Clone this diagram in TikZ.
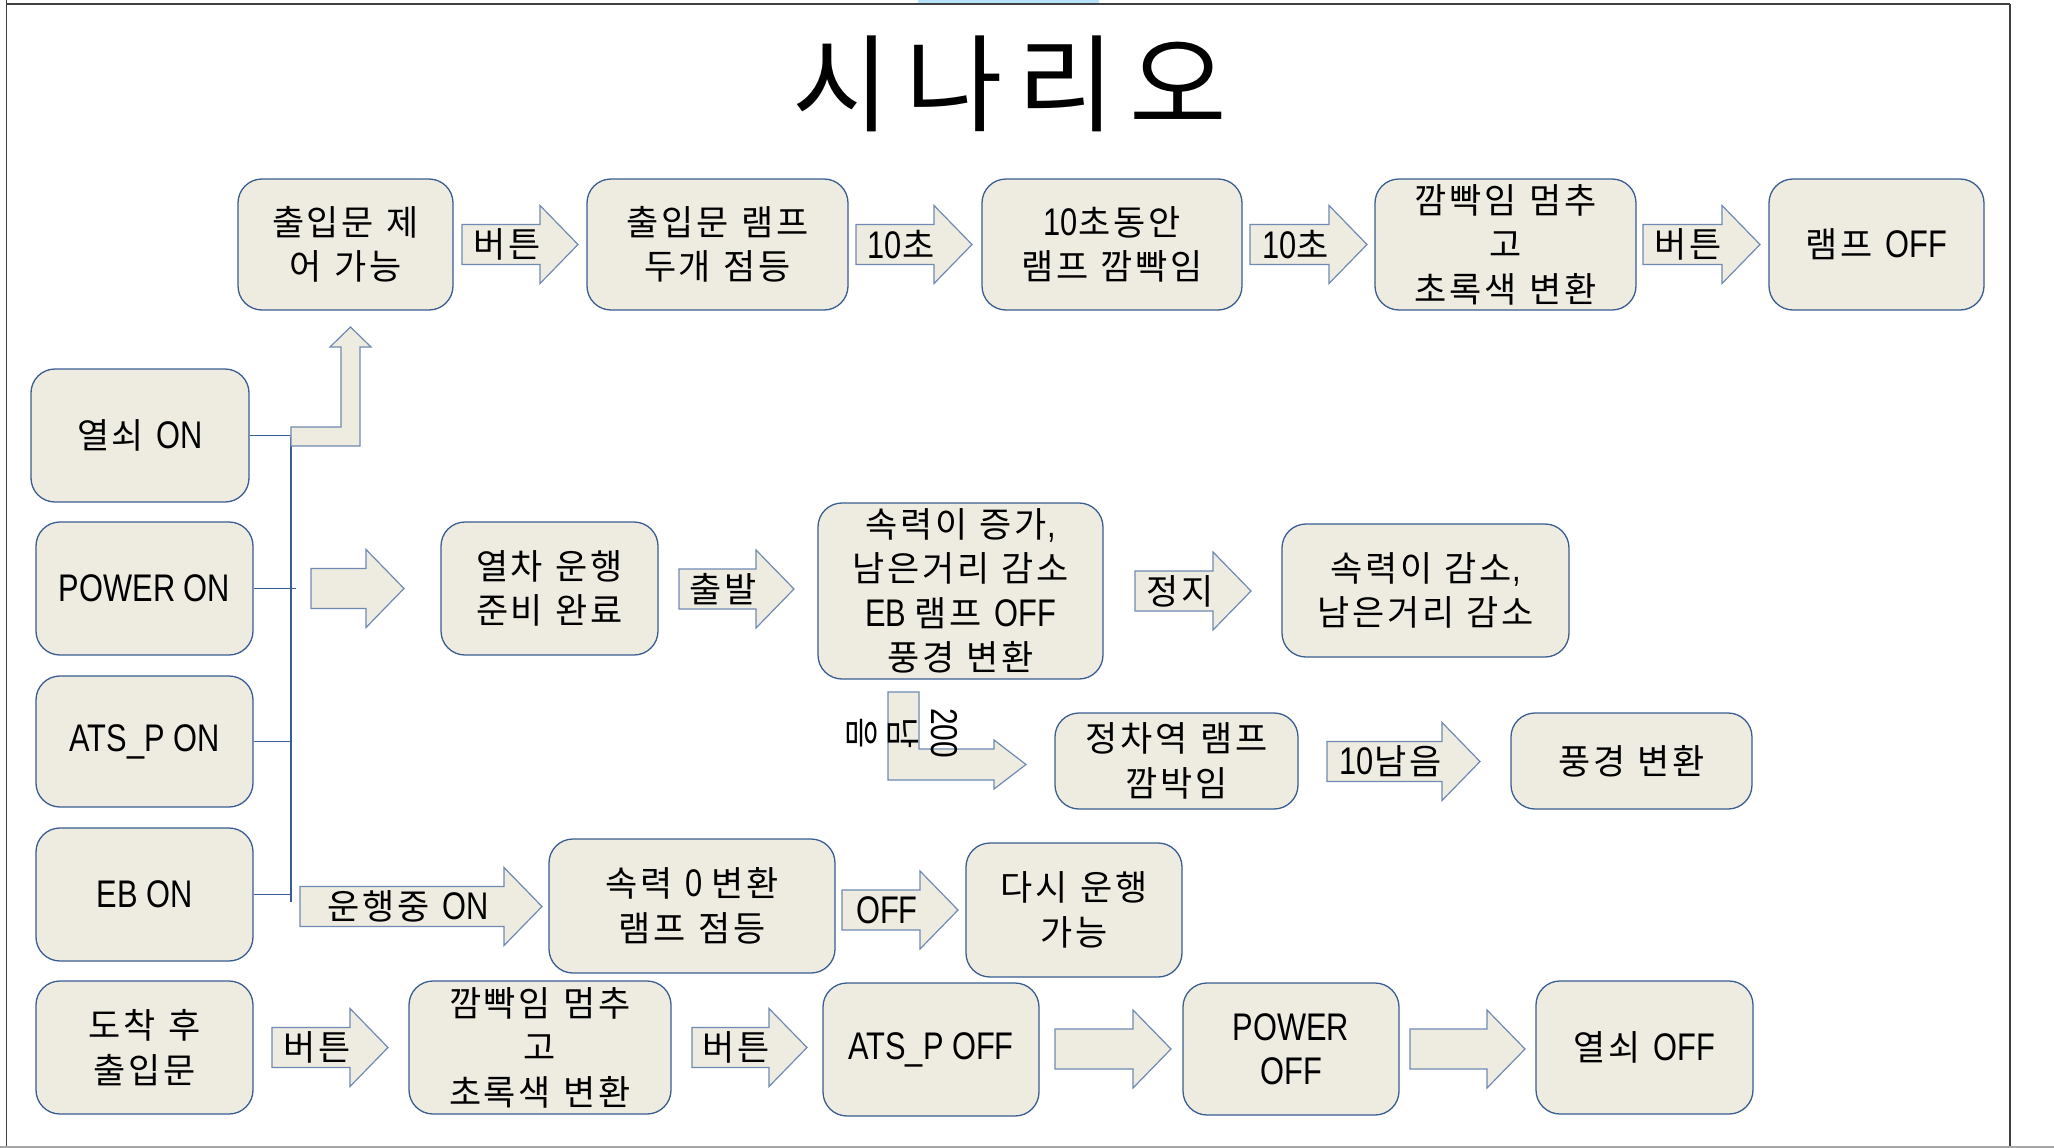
\documentclass[tikz,border=0pt]{standalone}
\usepackage{fontspec}
\setmainfont{Liberation Sans}[FakeStretch=0.8, Scale=1.1]
\newfontfamily\latinfont{Liberation Sans}[FakeStretch=0.8, Scale=1.1]
\newfontfamily\hangulfont{Noto Sans CJK KR}[LetterSpace=8]
\newfontfamily\hspfont{Noto Sans CJK KR}[WordSpace=1.6]
\newfontfamily\titlefont{Noto Sans CJK KR}[LetterSpace=14]
\XeTeXinterchartokenstate=1
\newXeTeXintercharclass\HangulClass
\count255="AC00
\loop
  \XeTeXcharclass\count255=\HangulClass
  \advance\count255 by 1
\ifnum\count255<"D7A4 \repeat
\XeTeXinterchartoks 0 \HangulClass = {\hangulfont}
\XeTeXinterchartoks 4095 \HangulClass = {\hangulfont}
\XeTeXinterchartoks \HangulClass 0 = {\latinfont}
\XeTeXinterchartoks \HangulClass 4095 = {\hspfont}
\XeTeXinterchartoks 4095 0 = {\latinfont}
\usetikzlibrary{calc}
\definecolor{boxfill}{HTML}{EEECE1}
\definecolor{boxline}{HTML}{3A5D92}
\definecolor{arrline}{HTML}{6F8AB3}
\definecolor{busline}{HTML}{3A5D92}
\definecolor{pagebar}{HTML}{404040}
\definecolor{tabblue}{HTML}{B7E3F9}
\tikzset{
  box/.style={draw=boxline, line width=1.3pt, fill=boxfill, rounded corners=24pt,
    align=center, inner sep=0pt, font=\fontsize{35}{44.5}\selectfont},
  barrow/.style={draw=arrline, line width=1.2pt, fill=boxfill, line join=miter},
  alabel/.style={font=\fontsize{35}{44.5}\selectfont, inner sep=0pt},
  bus/.style={draw=busline, line width=1.2pt},
}
% box: name, x1, y1, x2, y2, text
\newcommand{\boxnode}[6]{%
  \node[box, minimum width={(#4-#2)*1pt}, minimum height={(#5-#3)*1pt}]
    (#1) at ({(#2+#4)/2},{(#3+#5)/2}) {#6};}
% block arrow: name, x1, x2, yc, label
\newcommand{\blockarrow}[5]{%
  \draw[barrow] (#2,#4-20) -- (#3-38,#4-20) -- (#3-38,#4-39) -- (#3,#4)
    -- (#3-38,#4+39) -- (#3-38,#4+20) -- (#2,#4+20) -- cycle;
  \node[alabel] (#1) at ({(#2+#3-38)/2+6},#4) {#5};}
\begin{document}
\begin{tikzpicture}[x=1pt, y=-1pt]
\fill[white] (0,0) rectangle (2054,1148);
\useasboundingbox (0,0) rectangle (2054,1148);
% page frame
\fill[tabblue] (918,0) rectangle (1099,4);
\draw[pagebar, line width=2pt] (6,4.5) -- (2010,4.5);
\draw[pagebar, line width=1pt] (6,0) -- (6,1146);
\draw[pagebar, line width=1.2pt] (2010,4.5) -- (2010,1146);
\draw[gray!70, line width=2.5pt] (0,1147) -- (2054,1147);
% title
\node[inner sep=0pt, font={\XeTeXinterchartokenstate=0 \titlefont\fontsize{106}{120}\selectfont}] (title) at (1010,84) {시나리오};
% row 1
\boxnode{a}{238}{179}{453}{310}{출입문 제\\어 가능}
\boxnode{b}{587}{179}{848}{310}{출입문 램프\\두개 점등}
\boxnode{c}{982}{179}{1242}{310}{10초동안\\램프 깜빡임}
\boxnode{d}{1375}{179}{1636}{310}{깜빡임 멈추\\고\\초록색 변환}
\boxnode{e}{1769}{179}{1984}{310}{램프 OFF}
\blockarrow{l1}{462}{578}{244.5}{버튼}
\blockarrow{l2}{856}{972}{244.5}{10초}
\blockarrow{l3}{1250}{1367}{244.5}{10초}
\blockarrow{l4}{1643}{1760}{244.5}{버튼}
% left column
\boxnode{k1}{31}{369}{249}{502}{열쇠 ON}
\boxnode{k2}{36}{522}{253}{655}{POWER ON}
\boxnode{k3}{36}{676}{253}{807}{ATS\_P ON}
\boxnode{k4}{36}{828}{253}{961}{EB ON}
\boxnode{k5}{36}{981}{253}{1114}{도착 후\\출입문}
% bus
\coordinate (bustop) at (291,437);
\coordinate (busbot) at (291,902);
\draw[bus] (k1.east) -- (k1.east -| bustop);
\draw[bus] (bustop) -- (busbot);
\draw[bus] (k2.east) -- ++(42,0);
\draw[bus] (k3.east) -- (k3.east -| bustop);
\draw[bus] (k4.east) -- (k4.east -| bustop);
% bent arrow up to box a
\draw[barrow] (291,446) -- (291,427) -- (341,427) -- (341,347) -- (330,347)
  -- (350.5,327) -- (371,347) -- (360,347) -- (360,446) -- cycle;
% row 2
\blockarrow{l5}{311}{404}{588.5}{}
\boxnode{r}{441}{522}{658}{655}{열차 운행\\준비 완료}
\blockarrow{l6}{679}{794}{589}{출발}
\boxnode{s}{818}{503}{1103}{679}{속력이 증가,\\남은거리 감소\\EB 램프 OFF\\풍경 변환}
\blockarrow{l7}{1135}{1251}{591}{정지}
\boxnode{t}{1282}{524}{1569}{657}{속력이 감소,\\남은거리 감소}
% bent arrow down-right
\draw[barrow] (888,692) -- (919,692) -- (919,749) -- (994,749) -- (994,740)
  -- (1026,764.5) -- (994,789) -- (994,780) -- (888,780) -- cycle;
\node[alabel, rotate=-90, align=center, font=\fontsize{34}{41}\selectfont] (dist) at (902,733) {200\\남\\음};
\boxnode{u}{1055}{713}{1298}{809}{정차역 램프\\깜박임}
\blockarrow{l8}{1327}{1480}{761.5}{10남음}
\boxnode{v}{1511}{713}{1752}{809}{풍경 변환}
% EB row
\blockarrow{l9}{300}{542}{906.5}{운행중 ON}
\boxnode{w}{549}{839}{835}{973}{속력 0 변환\\램프 점등}
\blockarrow{l10}{842}{958}{910}{OFF}
\boxnode{x}{966}{843}{1182}{977}{다시 운행\\가능}
% bottom row
\blockarrow{l11}{272}{388}{1047.5}{버튼}
\boxnode{y}{409}{981}{671}{1114}{깜빡임 멈추\\고\\초록색 변환}
\blockarrow{l12}{692}{807}{1047.5}{버튼}
\boxnode{z}{823}{983}{1039}{1116}{ATS\_P OFF}
\blockarrow{l13}{1055}{1171}{1049}{}
\boxnode{p}{1183}{983}{1399}{1115}{POWER\\OFF}
\blockarrow{l14}{1410}{1525}{1049}{}
\boxnode{q}{1536}{981}{1753}{1114}{열쇠 OFF}
\end{tikzpicture}
\end{document}
